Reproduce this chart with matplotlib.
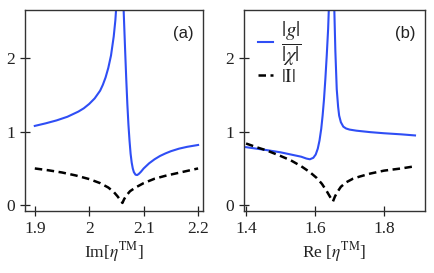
import numpy as np
import matplotlib
matplotlib.use('Agg')
from matplotlib import pyplot as plt

plt.rcParams['font.family'] = 'Liberation Serif'
plt.rcParams['mathtext.fontset'] = 'stix'

# panel (a): blue curve, two branches around the pole
a_x_left = [1.90, 1.92, 1.94, 1.96, 1.98, 1.99, 2.00, 2.01, 2.02, 2.025, 2.03, 2.035,
            2.04, 2.045, 2.048, 2.051]
a_g_left = [1.08, 1.115, 1.155, 1.205, 1.275, 1.32, 1.38, 1.455, 1.56, 1.64, 1.74, 1.87,
            2.04, 2.30, 2.52, 2.85]
a_x_right = [2.061, 2.063, 2.066, 2.068, 2.070, 2.072, 2.074, 2.076, 2.078, 2.080, 2.082,
             2.085, 2.088, 2.091, 2.095, 2.10, 2.105, 2.11, 2.12, 2.13, 2.14, 2.15,
             2.165, 2.18, 2.20]
a_g_right = [3.2, 2.7, 2.1, 1.72, 1.38, 1.10, 0.88, 0.70, 0.58, 0.50, 0.45,
             0.415, 0.41, 0.425, 0.455, 0.50, 0.535, 0.57, 0.625, 0.67, 0.705, 0.735,
             0.77, 0.795, 0.82]
a_x_I = [1.90, 1.925, 1.95, 1.975, 2.00, 2.02, 2.035, 2.045, 2.052, 2.057, 2.061, 2.064,
         2.068, 2.075, 2.085, 2.10, 2.12, 2.14, 2.17, 2.20]
a_I = [0.50, 0.475, 0.445, 0.405, 0.355, 0.30, 0.24, 0.18, 0.12, 0.07, 0.03, 0.08,
       0.13, 0.19, 0.24, 0.30, 0.36, 0.40, 0.45, 0.50]

# panel (b)
b_x_left = [1.40, 1.43, 1.46, 1.50, 1.53, 1.56, 1.575, 1.585, 1.595, 1.602, 1.608, 1.613,
            1.618, 1.622, 1.626, 1.630, 1.634, 1.638, 1.641]
b_g_left = [0.79, 0.77, 0.75, 0.72, 0.69, 0.66, 0.635, 0.625, 0.645, 0.69, 0.77, 0.88,
            1.04, 1.22, 1.44, 1.72, 2.04, 2.4, 2.8]
b_x_right = [1.654, 1.656, 1.659, 1.663, 1.667, 1.670, 1.675, 1.682, 1.69, 1.70, 1.72,
             1.76, 1.80, 1.85, 1.89]
b_g_right = [3.0, 2.66, 2.1, 1.58, 1.34, 1.22, 1.13, 1.07, 1.045, 1.03, 1.015,
             0.995, 0.98, 0.965, 0.95]
b_x_I = [1.40, 1.43, 1.46, 1.50, 1.53, 1.56, 1.585, 1.605, 1.62, 1.634, 1.644, 1.652,
         1.658, 1.665, 1.675, 1.69, 1.71, 1.73, 1.76, 1.80, 1.85, 1.89]
b_I = [0.84, 0.79, 0.745, 0.67, 0.61, 0.53, 0.45, 0.37, 0.29, 0.19, 0.11, 0.05,
       0.12, 0.18, 0.25, 0.31, 0.36, 0.39, 0.43, 0.47, 0.50, 0.53]

blue = '#2f4ef5'
dark = '#222222'
dash = (0, (3, 1.8))

fig = plt.figure(figsize=(4.34, 2.73), dpi=100)
ax1 = fig.add_axes([25/434, 1-211/273, 178/434, 201/273])
ax2 = fig.add_axes([244/434, 1-211/273, 181/434, 201/273])

for ax in (ax1, ax2):
    for s in ax.spines.values():
        s.set_color('#333333')
        s.set_linewidth(1.0)
    ax.tick_params(direction='inout', length=7, width=0.9, colors=dark, labelsize=12.5)
    ax.set_ylim(-0.08, 2.66)
    ax.set_yticks([0, 1, 2])
    ax.set_yticklabels(['0', '1', '2'])

ax1.plot(a_x_left, a_g_left, color=blue, lw=1.5)
ax1.plot(a_x_right, a_g_right, color=blue, lw=1.5)
ax1.plot(a_x_I, a_I, color='black', lw=1.8, ls=dash)
ax1.set_xlim(1.882, 2.209)
ax1.set_xticks([1.9, 2.0, 2.1, 2.2])
ax1.set_xticklabels(['1.9', '2', '2.1', '2.2'])
ax1.set_xlabel(r'Im[$\eta^{\mathrm{TM}}$]', fontsize=12.5, color=dark, labelpad=2)
ax1.text(0.89, 0.885, '(a)', transform=ax1.transAxes, ha='center', va='center',
         fontsize=12, family='Liberation Sans', color=dark)

l1, = ax2.plot(b_x_left, b_g_left, color=blue, lw=1.5)
ax2.plot(b_x_right, b_g_right, color=blue, lw=1.5)
l2, = ax2.plot(b_x_I, b_I, color='black', lw=1.8, ls=dash)
ax2.set_xlim(1.394, 1.919)
ax2.set_xticks([1.4, 1.6, 1.8])
ax2.set_xticklabels(['1.4', '1.6', '1.8'])
ax2.set_xlabel(r'Re [$\eta^{\mathrm{TM}}$]', fontsize=12.5, color=dark, labelpad=2)
ax2.text(0.89, 0.885, '(b)', transform=ax2.transAxes, ha='center', va='center',
         fontsize=12, family='Liberation Sans', color=dark)
leg = ax2.legend([l1, l2], [r'$\dfrac{|g|}{|\chi|}$', r'$|\mathrm{I}|$'], loc='upper left',
                 bbox_to_anchor=(0.0, 1.02), frameon=False, handlelength=0.8,
                 handletextpad=0.4, labelspacing=0.0, fontsize=14, borderaxespad=0.3)
leg.get_texts()[0].set_fontsize(15)
for t in leg.get_texts():
    t.set_color(dark)

fig.savefig('out.png', dpi=100)
